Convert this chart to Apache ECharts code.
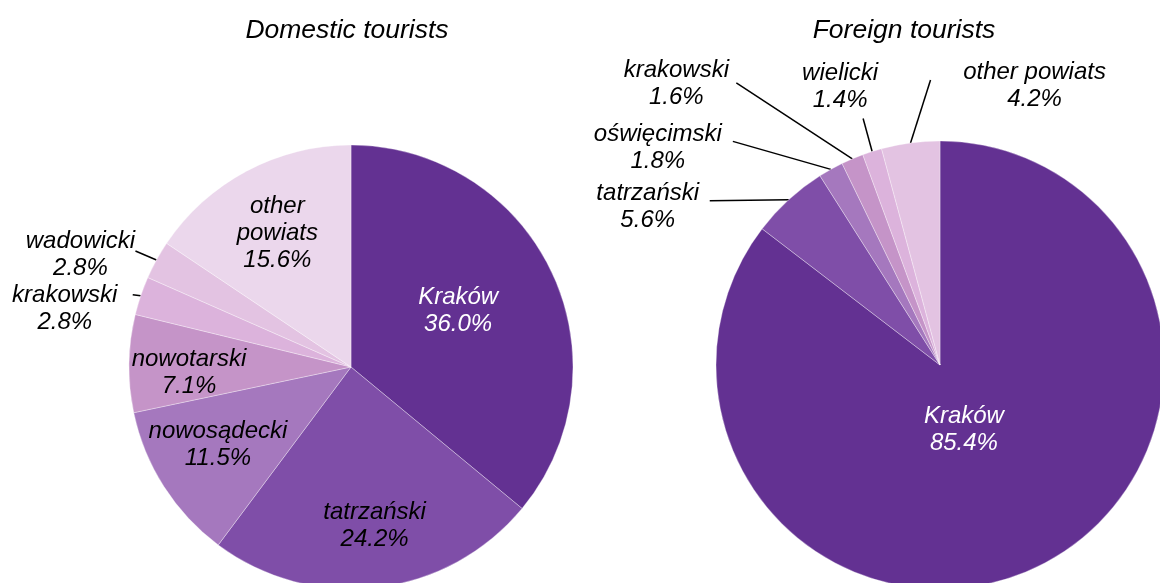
<!DOCTYPE html>
<html>
<head>
<meta charset="utf-8">
<title>Tourists by powiat</title>
<script src="https://cdn.jsdelivr.net/npm/echarts@6/dist/echarts.min.js"></script>
<style>
  html, body { margin: 0; padding: 0; background: #fff; }
  #main { width: 1160px; height: 583px; }
</style>
</head>
<body>
<div id="main"></div>
<script>
// data (percent shares)
const domesticNames = ['Kraków', 'tatrzański', 'nowosądecki', 'nowotarski', 'krakowski', 'wadowicki', 'other\npowiats'];
const domesticValues = [36.0, 24.2, 11.5, 7.1, 2.8, 2.8, 15.6];
const foreignNames = ['Kraków', 'tatrzański', 'oświęcimski', 'krakowski', 'wielicki', 'other powiats'];
const foreignValues = [85.4, 5.6, 1.8, 1.6, 1.4, 4.2];

const domesticColors = ['#633192', '#7f4ea8', '#a578be', '#c594c8', '#dcb3dc', '#e3c3e2', '#ebd7ec'];
const foreignColors = ['#633192', '#7f4ea8', '#a578be', '#c594c8', '#dcb3dc', '#e3c3e2'];

const FONT = 'Liberation Sans, Arial, sans-serif';

// label placement: inside labels move from default spot, outside ones hang off the slice edge
// in: [dx, dy]   out: [dx, dy, lineDx, lineDy]
const domesticLabelPos = [
  { in: [4, -8] },
  { in: [10, 46] },
  { in: [-37, 16] },
  { in: [-48, 8] },
  { out: [-76, 13, -8, -1] },
  { out: [-76, -5, -21, -9] },
  { in: [-20, -33] }
];
const foreignLabelPos = [
  { in: [-27, -38] },
  { out: [-141, 7, -79, 1] },
  { out: [-173, -22, -98, -28] },
  { out: [-176, -75, -116, -76] },
  { out: [-32, -65, -9, -33] },
  { out: [124, -57, 20, -63] }
];

function buildData(names, values, colors, pos) {
  return names.map((n, i) => ({
    name: n,
    value: values[i],
    itemStyle: { color: colors[i] },
    label: {
      position: pos[i].out ? 'outside' : 'inside',
      color: (i === 0) ? '#ffffff' : '#000000'
    },
    labelLine: { show: !!pos[i].out }
  }));
}

function makeLayout(pos) {
  return function (params) {
    const p = pos[params.dataIndex];
    if (p.out) {
      const a = params.labelLinePoints[0];
      return {
        x: a[0] + p.out[0],
        y: a[1] + p.out[1],
        align: 'center',
        verticalAlign: 'middle',
        labelLinePoints: [[a[0], a[1]], [a[0] + p.out[2], a[1] + p.out[3]]]
      };
    }
    const r = params.labelRect;
    return {
      x: r.x + r.width / 2 + p.in[0],
      y: r.y + r.height / 2 + p.in[1],
      align: 'center',
      verticalAlign: 'middle'
    };
  };
}

const pieBase = {
  type: 'pie',
  clockwise: true,
  startAngle: 90,
  avoidLabelOverlap: false,
  emphasis: { disabled: true },
  itemStyle: { borderColor: 'rgba(255,255,255,0.55)', borderWidth: 0.6 },
  label: {
    show: true,
    fontFamily: FONT,
    fontSize: 24,
    fontStyle: 'italic',
    lineHeight: 27,
    align: 'center',
    formatter: p => p.name + '\n' + p.value.toFixed(1) + '%'
  },
  labelLine: {
    show: true,
    smooth: false,
    lineStyle: { color: '#000000', width: 1.5 }
  }
};

const titleStyle = { fontFamily: FONT, fontSize: 26.5, fontStyle: 'italic', fontWeight: 'normal', color: '#000' };

const chart = echarts.init(document.getElementById('main'), null, { renderer: 'canvas' });
chart.setOption({
  animation: false,
  backgroundColor: '#ffffff',
  title: [
    { text: 'Domestic tourists', left: 347, top: 17, textAlign: 'center', padding: 0, textStyle: titleStyle },
    { text: 'Foreign tourists', left: 904, top: 17, textAlign: 'center', padding: 0, textStyle: titleStyle }
  ],
  series: [
    Object.assign({}, pieBase, {
      name: 'Domestic tourists',
      center: [351, 367],
      radius: 222,
      data: buildData(domesticNames, domesticValues, domesticColors, domesticLabelPos),
      labelLayout: makeLayout(domesticLabelPos)
    }),
    Object.assign({}, pieBase, {
      name: 'Foreign tourists',
      center: [940, 365],
      radius: 224,
      data: buildData(foreignNames, foreignValues, foreignColors, foreignLabelPos),
      labelLayout: makeLayout(foreignLabelPos)
    })
  ]
});
</script>
</body>
</html>
